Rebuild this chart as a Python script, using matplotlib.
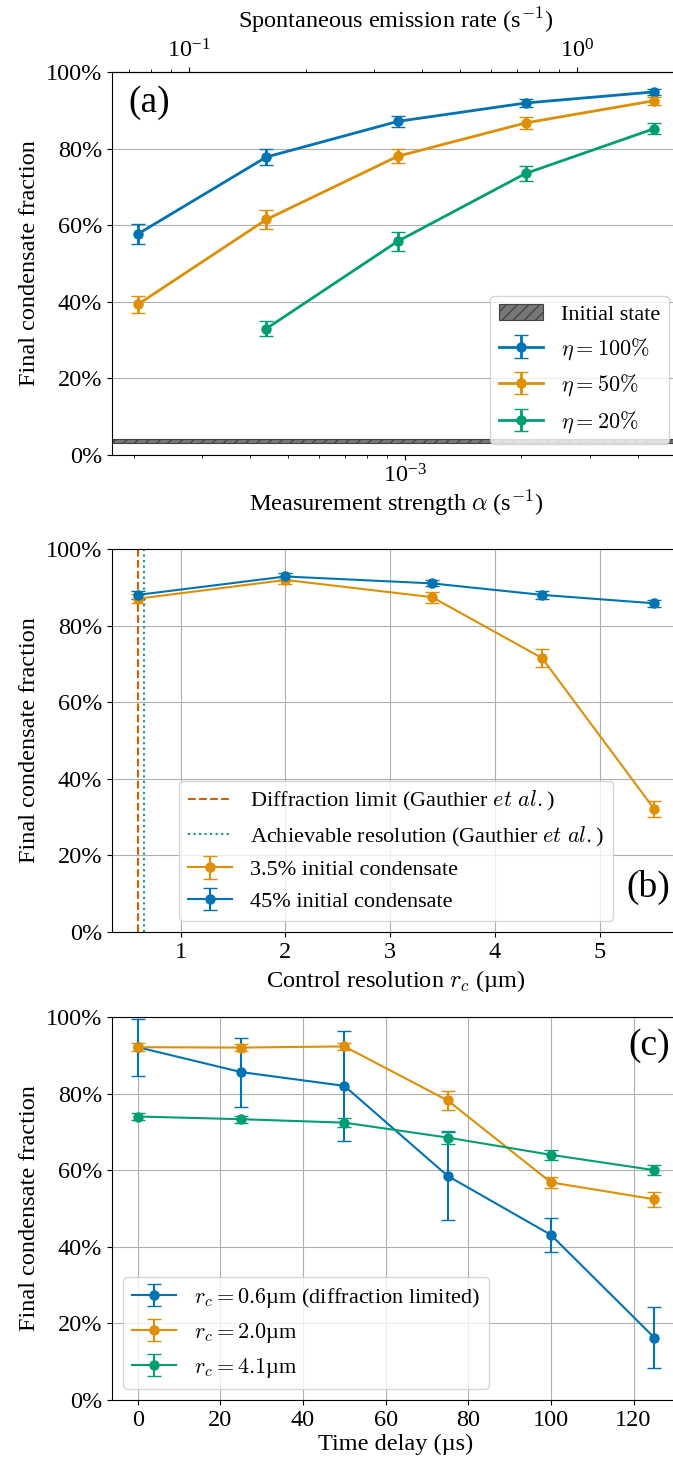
import matplotlib
matplotlib.use('Agg')
import matplotlib.pyplot as plt
from matplotlib.ticker import PercentFormatter, FixedLocator

plt.rcParams['font.family'] = ['Liberation Serif', 'DejaVu Serif']
plt.rcParams['mathtext.fontset'] = 'cm'
plt.rcParams['font.size'] = 17.5
plt.rcParams['legend.fontsize'] = 16

blue, orange, green, red = '#0173b2', '#de8f05', '#029e73', '#d55e00'

# (a) measurement strength scan
alpha = [2.05e-4, 4.4e-4, 9.6e-4, 2.05e-3, 4.4e-3]
alpha_eta20 = [4.4e-4, 9.6e-4, 2.05e-3, 4.4e-3]
frac_eta100 = [57.7, 77.8, 87.1, 91.9, 94.8]
err_eta100 = [2.5, 2.0, 1.5, 1.0, 0.8]
frac_eta50 = [39.3, 61.5, 78.0, 86.7, 92.5]
err_eta50 = [2.3, 2.5, 1.8, 1.5, 1.0]
frac_eta20 = [33.0, 55.8, 73.5, 85.2]
err_eta20 = [2.0, 2.5, 1.9, 1.5]
initial_lo, initial_hi = 3.2, 4.3
emission_per_alpha = 360.0
emission_ticks = [0.1, 1.0]

# (b) control resolution scan
r_c = [0.59, 2.0, 3.4, 4.45, 5.52]
frac_low = [87.0, 91.9, 87.4, 71.5, 32.1]
err_low = [1.2, 1.0, 1.4, 2.3, 2.0]
frac_high = [88.0, 92.8, 91.0, 88.0, 85.8]
err_high = [1.0, 0.8, 0.8, 1.0, 0.9]
diffraction_limit = 0.59
achievable_res = 0.65

# (c) time delay scan
delay = [0, 25, 50, 75, 100, 125]
frac_r06 = [92.1, 85.6, 82.0, 58.5, 43.1, 16.3]
err_r06 = [7.4, 9.0, 14.4, 11.4, 4.5, 7.9]
frac_r20 = [92.1, 92.0, 92.3, 78.2, 56.8, 52.4]
err_r20 = [1.0, 1.0, 1.0, 2.4, 1.5, 2.0]
frac_r41 = [74.0, 73.3, 72.4, 68.5, 64.0, 60.0]
err_r41 = [0.9, 0.9, 1.2, 1.7, 1.3, 1.4]

fig = plt.figure(figsize=(6.73, 14.63), dpi=100)
left, width = 0.1664, 0.844
ax_a = fig.add_axes([left, 0.689, width, 0.2618])
ax_b = fig.add_axes([left, 0.3630, width, 0.2618])
ax_c = fig.add_axes([left, 0.0431, width, 0.2618])

# ---- (a)
ax_a.axhspan(initial_lo, initial_hi, facecolor='#777777', edgecolor='#444444',
             hatch='///', lw=0.8, label='Initial state')
ax_a.errorbar(alpha, frac_eta100, yerr=err_eta100, marker='o', ms=6.5, lw=2,
              capsize=5, color=blue, label=r'$\eta = 100\%$')
ax_a.errorbar(alpha, frac_eta50, yerr=err_eta50, marker='o', ms=6.5, lw=2,
              capsize=5, color=orange, label=r'$\eta = 50\%$')
ax_a.errorbar(alpha_eta20, frac_eta20, yerr=err_eta20, marker='o', ms=6.5, lw=2,
              capsize=5, color=green, label=r'$\eta = 20\%$')
ax_a.set_xscale('log')
ax_a.set_ylim(0, 100)
ax_a.yaxis.grid(True)
ax_a.set_xlabel(r'Measurement strength $\alpha$ (s$^{-1}$)', labelpad=0)
ax_a.set_ylabel('Final condensate fraction')
ax_a.legend(loc='lower right')
top = ax_a.secondary_xaxis('top', functions=(lambda a: a * emission_per_alpha,
                                             lambda r: r / emission_per_alpha))
top.xaxis.set_major_locator(FixedLocator(emission_ticks))
top.set_xlabel(r'Spontaneous emission rate (s$^{-1}$)', labelpad=8)
ax_a.text(0.028, 0.965, '(a)', transform=ax_a.transAxes, fontsize=27,
          ha='left', va='top')

# ---- (b)
ax_b.axvline(diffraction_limit, color=red, ls='--', lw=1.5,
             label=r'Diffraction limit (Gauthier $et\ al.$)')
ax_b.axvline(achievable_res, color=green, ls=':', lw=1.5,
             label=r'Achievable resolution (Gauthier $et\ al.$)')
ax_b.errorbar(r_c, frac_low, yerr=err_low, marker='o', ms=6.5, lw=1.5,
              capsize=5, color=orange, label='3.5% initial condensate')
ax_b.errorbar(r_c, frac_high, yerr=err_high, marker='o', ms=6.5, lw=1.5,
              capsize=5, color=blue, label='45% initial condensate')
ax_b.set_ylim(0, 100)
ax_b.grid(True)
ax_b.set_xlabel(r'Control resolution $r_c$ (µm)')
ax_b.set_ylabel('Final condensate fraction')
ax_b.legend(loc='lower center')
ax_b.text(0.982, 0.07, '(b)', transform=ax_b.transAxes, fontsize=27,
          ha='right', va='bottom')

# ---- (c)
ax_c.errorbar(delay, frac_r06, yerr=err_r06, marker='o', ms=6.5, lw=1.5,
              capsize=5, color=blue, label=r'$r_c = 0.6$µm (diffraction limited)')
ax_c.errorbar(delay, frac_r20, yerr=err_r20, marker='o', ms=6.5, lw=1.5,
              capsize=5, color=orange, label=r'$r_c = 2.0$µm')
ax_c.errorbar(delay, frac_r41, yerr=err_r41, marker='o', ms=6.5, lw=1.5,
              capsize=5, color=green, label=r'$r_c = 4.1$µm')
ax_c.set_ylim(0, 100)
ax_c.grid(True)
ax_c.set_xlabel('Time delay (µs)', labelpad=2)
ax_c.set_ylabel('Final condensate fraction')
ax_c.legend(loc='lower left')
ax_c.text(0.982, 0.97, '(c)', transform=ax_c.transAxes, fontsize=27,
          ha='right', va='top')

for ax in (ax_a, ax_b, ax_c):
    ax.yaxis.set_major_formatter(PercentFormatter(decimals=0))
    ax.set_yticks([0, 20, 40, 60, 80, 100])

fig.savefig('out.png', dpi=100)
